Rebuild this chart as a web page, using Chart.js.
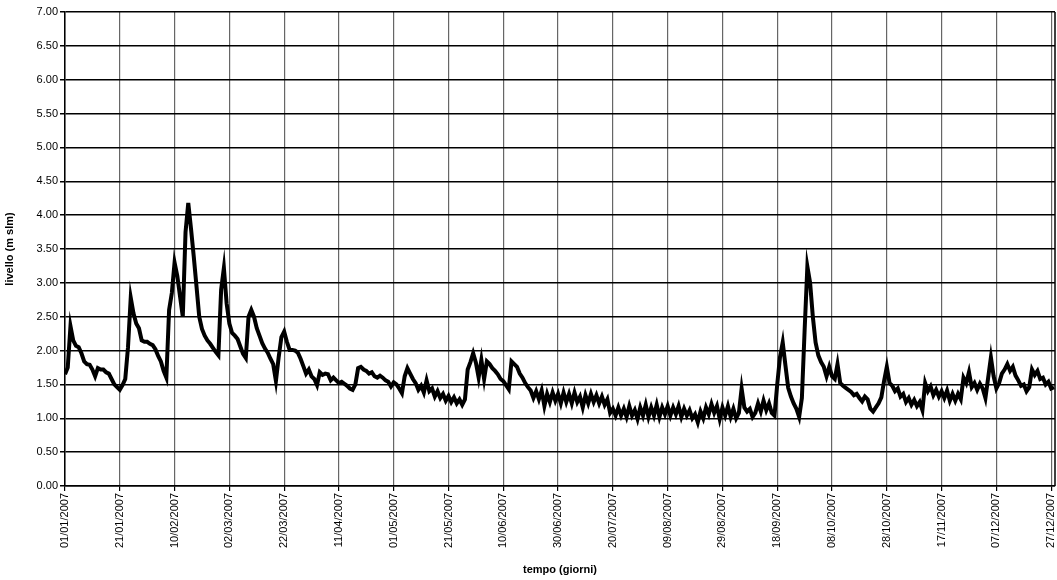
<!DOCTYPE html>
<html lang="it">
<head>
  <meta charset="UTF-8">
  <title>Livello idrometrico 2007</title>
  <script src="https://cdn.jsdelivr.net/npm/chart.js"></script>
  <style>
    html, body {
      margin: 0;
      padding: 0;
      background: #fff;
    }
    .wrap {
      width: 1057px;
      height: 580px;
      position: relative;
    }
  </style>
</head>
<body>
  <div class="wrap">
    <canvas id="graficoLivello"></canvas>
  </div>

  <script>
    // date ogni 20 giorni, a partire dal giorno 0
    const etichetteDate = [
      '01/01/2007', '21/01/2007', '10/02/2007', '02/03/2007', '22/03/2007',
      '11/04/2007', '01/05/2007', '21/05/2007', '10/06/2007', '30/06/2007',
      '20/07/2007', '09/08/2007', '29/08/2007', '18/09/2007', '08/10/2007',
      '28/10/2007', '17/11/2007', '07/12/2007', '27/12/2007'
    ];

    // livello giornaliero (m slm), giorno 0 = 01/01/2007
    const livelli = [
      1.65, 1.75, 2.36, 2.15, 2.07, 2.05, 1.96, 1.84, 1.80, 1.79,
      1.72, 1.62, 1.74, 1.72, 1.72, 1.68, 1.66, 1.58, 1.50, 1.46,
      1.42, 1.49, 1.58, 2.05, 2.78, 2.55, 2.40, 2.33, 2.15, 2.13,
      2.13, 2.10, 2.08, 2.02, 1.92, 1.84, 1.70, 1.60, 2.60, 2.85,
      3.30, 3.10, 2.80, 2.50, 3.75, 4.18, 3.80, 3.39, 2.95, 2.50,
      2.32, 2.22, 2.15, 2.10, 2.04, 1.98, 1.93, 2.90, 3.22, 2.70,
      2.40, 2.26, 2.22, 2.17, 2.06, 1.95, 1.89, 2.50, 2.60, 2.50,
      2.33, 2.22, 2.11, 2.03, 1.97, 1.88, 1.80, 1.55, 1.90, 2.20,
      2.28, 2.13, 2.01, 2.01, 2.00, 1.97, 1.88, 1.77, 1.66, 1.72,
      1.62, 1.58, 1.49, 1.68, 1.64, 1.66, 1.65, 1.56, 1.60, 1.56,
      1.52, 1.54, 1.51, 1.48, 1.44, 1.42, 1.50, 1.74, 1.76, 1.72,
      1.70, 1.66, 1.68, 1.62, 1.60, 1.63, 1.60, 1.56, 1.54, 1.47,
      1.53, 1.50, 1.44, 1.37, 1.62, 1.74, 1.66, 1.58, 1.52, 1.42,
      1.48, 1.38, 1.56, 1.40, 1.44, 1.32, 1.40, 1.30, 1.36, 1.26,
      1.33, 1.24, 1.31, 1.22, 1.28, 1.20, 1.28, 1.72, 1.83, 1.96,
      1.82, 1.60, 1.86, 1.58, 1.84, 1.80, 1.74, 1.70, 1.65, 1.58,
      1.55, 1.49, 1.43, 1.84, 1.80, 1.76, 1.66, 1.60, 1.52, 1.46,
      1.41, 1.30, 1.40, 1.28, 1.41, 1.18, 1.36, 1.24, 1.38, 1.26,
      1.36, 1.22, 1.38, 1.24, 1.36, 1.22, 1.38, 1.24, 1.32, 1.16,
      1.34, 1.22, 1.36, 1.24, 1.34, 1.22, 1.32, 1.20, 1.28, 1.08,
      1.14, 1.04, 1.16, 1.04, 1.14, 1.02, 1.18, 1.04, 1.12, 0.99,
      1.16, 1.04, 1.20, 1.02, 1.16, 1.04, 1.20, 1.02, 1.16, 1.06,
      1.18, 1.04, 1.16, 1.06, 1.18, 1.02, 1.14, 1.04, 1.12, 1.00,
      1.06, 0.94, 1.10, 1.00, 1.16, 1.06, 1.21, 1.08, 1.18, 0.99,
      1.16, 1.04, 1.18, 1.02, 1.14, 1.00, 1.08, 1.44, 1.16, 1.10,
      1.14, 1.02, 1.08, 1.22, 1.10, 1.26, 1.12, 1.22, 1.08, 1.04,
      1.50, 1.90, 2.12, 1.78, 1.45, 1.32, 1.22, 1.14, 1.02, 1.30,
      2.30, 3.24, 3.00, 2.50, 2.12, 1.93, 1.83, 1.76, 1.62, 1.76,
      1.62, 1.58, 1.80, 1.52, 1.48, 1.45, 1.42, 1.39, 1.34, 1.36,
      1.30, 1.25, 1.32, 1.28, 1.14, 1.10, 1.16, 1.22, 1.31, 1.55,
      1.76, 1.52, 1.48, 1.40, 1.44, 1.32, 1.36, 1.24, 1.30, 1.20,
      1.27, 1.18, 1.24, 1.12, 1.52, 1.40, 1.47, 1.34, 1.42, 1.32,
      1.40, 1.30, 1.41, 1.26, 1.36, 1.26, 1.36, 1.28, 1.60, 1.52,
      1.68, 1.46, 1.52, 1.42, 1.51, 1.44, 1.30, 1.60, 1.90, 1.62,
      1.44, 1.52, 1.66, 1.72, 1.80, 1.70, 1.76, 1.63, 1.56, 1.48,
      1.50, 1.40, 1.46, 1.72, 1.64, 1.70, 1.58, 1.60, 1.50, 1.54,
      1.44, 1.46
    ];

    const punti = livelli.map((v, i) => ({ x: i, y: v }));

    // cornice destra dell'area del grafico
    const cornice = {
      id: 'cornice',
      afterDraw(chart) {
        const { ctx, chartArea } = chart;
        ctx.save();
        ctx.strokeStyle = '#000';
        ctx.lineWidth = 1.5;
        ctx.beginPath();
        ctx.moveTo(chartArea.right, chartArea.top);
        ctx.lineTo(chartArea.right, chartArea.bottom);
        ctx.stroke();
        ctx.restore();
      }
    };

    Chart.defaults.font.family = 'Arial, "Liberation Sans", sans-serif';
    Chart.defaults.color = '#000';

    const ctx = document.getElementById('graficoLivello').getContext('2d');
    new Chart(ctx, {
      type: 'line',
      data: {
        datasets: [{
          label: 'livello',
          data: punti,
          borderColor: '#000',
          borderWidth: 4,
          pointRadius: 0,
          tension: 0,
          fill: false
        }]
      },
      options: {
        responsive: true,
        maintainAspectRatio: false,
        animation: false,
        layout: {
          padding: { left: 0, top: 12, right: 2, bottom: 0 }
        },
        plugins: {
          legend: { display: false },
          tooltip: { enabled: false }
        },
        scales: {
          x: {
            type: 'linear',
            min: 0,
            max: 361.4,
            afterFit: (scale) => {
              scale.height = 94;
              scale.paddingLeft = 0;
              scale.paddingRight = 0;
            },
            ticks: {
              stepSize: 20,
              includeBounds: false,
              autoSkip: false,
              minRotation: 90,
              maxRotation: 90,
              padding: 2,
              font: { size: 11 },
              callback: (v) => etichetteDate[Math.round(v / 20)] || ''
            },
            grid: {
              color: '#666',
              lineWidth: 1.2,
              tickLength: 5,
              tickColor: '#000'
            },
            border: { color: '#000', width: 1.5 },
            title: {
              display: true,
              text: 'tempo (giorni)',
              font: { size: 11, weight: 'bold' },
              padding: { top: 0, bottom: 3 }
            }
          },
          y: {
            min: 0,
            max: 7,
            afterFit: (scale) => { scale.width = 65; },
            ticks: {
              stepSize: 0.5,
              padding: 2,
              font: { size: 11 },
              callback: (v) => v.toFixed(2)
            },
            grid: {
              color: '#000',
              lineWidth: 1.5,
              tickLength: 5
            },
            border: { color: '#000', width: 1.5 },
            title: {
              display: true,
              text: 'livello (m slm)',
              font: { size: 11, weight: 'bold' },
              padding: { top: 3, bottom: 0 }
            }
          }
        }
      },
      plugins: [cornice]
    });
  </script>
</body>
</html>
